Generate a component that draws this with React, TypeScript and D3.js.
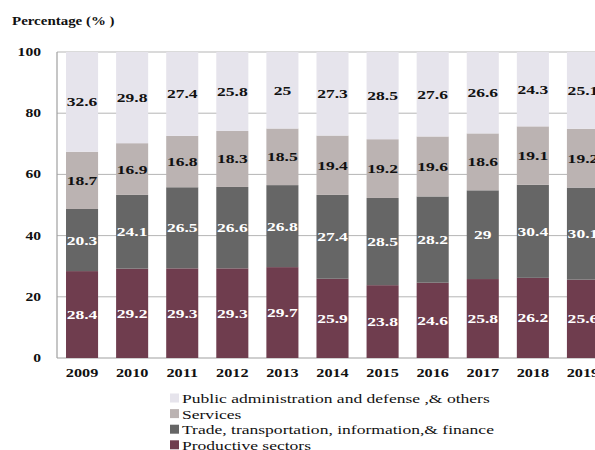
import React from "react";
import * as d3 from "d3";

const years = ["2009", "2010", "2011", "2012", "2013", "2014", "2015", "2016", "2017", "2018", "2019"];
const productive = [28.4, 29.2, 29.3, 29.3, 29.7, 25.9, 23.8, 24.6, 25.8, 26.2, 25.6];
const trade = [20.3, 24.1, 26.5, 26.6, 26.8, 27.4, 28.5, 28.2, 29, 30.4, 30.1];
const services = [18.7, 16.9, 16.8, 18.3, 18.5, 19.4, 19.2, 19.6, 18.6, 19.1, 19.2];
const publicAdmin = [32.6, 29.8, 27.4, 25.8, 25, 27.3, 28.5, 27.6, 26.6, 24.3, 25.1];
const yTicks = [0, 20, 40, 60, 80, 100];

const seriesNames = [
  "Productive sectors",
  "Trade, transportation, information,& finance",
  "Services",
  "Public administration and defense ,& others",
];
const seriesValues = [productive, trade, services, publicAdmin];
const colors = ["#6F3D4E", "#666666", "#BBB3B2", "#E6E4EC"];
const labelColors = ["#ffffff", "#ffffff", "#111111", "#111111"];

const FONT = "'Liberation Serif', 'Times New Roman', serif";

export default function App() {
  const left = 57, right = 608, top = 52, bottom = 358;
  const x = d3.scaleBand<string>().domain(years).range([left, right]).paddingInner(0.36).paddingOuter(0.18);
  const y = d3.scaleLinear().domain([0, 100]).range([bottom, top]);

  const table = years.map((yr, i) => {
    const row: any = { year: yr };
    seriesValues.forEach((s, k) => (row["s" + k] = s[i]));
    return row;
  });
  const stack = d3.stack<any>().keys(seriesValues.map((_, k) => "s" + k))(table);

  const sx = 1.3;
  const stretched = (tx: number, ty: number, text: string, props: any) => (
    <text transform={`translate(${tx},${ty}) scale(${sx},1)`} {...props}>
      {text}
    </text>
  );

  const legendOrder = [3, 2, 1, 0];

  return (
    <svg width={595} height={450} style={{ position: "absolute", left: 0, top: 0, background: "#fff" }}
      fontFamily={FONT}>
      {stretched(12, 25, "Percentage (% )", { fontSize: 11.5, fontWeight: "bold", fill: "#111" })}
      {yTicks.map((t) => (
        <g key={t}>
          {t > 0 && <line x1={left} x2={right} y1={y(t)} y2={y(t)} stroke="#b5b5b5" strokeWidth={1} />}
          {stretched(41, y(t) + 4, String(t), { fontSize: 12, fontWeight: "bold", fill: "#111", textAnchor: "end" })}
        </g>
      ))}
      <line x1={left} x2={left} y1={top} y2={bottom} stroke="#a0a0a0" strokeWidth={1.2} />
      <line x1={left} x2={right} y1={bottom} y2={bottom} stroke="#a0a0a0" strokeWidth={1.2} />
      {stack.map((layer, k) => (
        <g key={k}>
          {layer.map((d, i) => (
            <rect key={i} x={x(years[i])} width={x.bandwidth()} y={y(d[1])} height={y(d[0]) - y(d[1])}
              fill={colors[k]} />
          ))}
        </g>
      ))}
      {stack.map((layer, k) => (
        <g key={"l" + k}>
          {layer.map((d, i) =>
            <g key={i}>
              {stretched((x(years[i]) as number) + x.bandwidth() / 2, (y(d[0]) + y(d[1])) / 2 + 4.5,
                String(seriesValues[k][i]),
                { fontSize: 13.5, fontWeight: "bold", fill: labelColors[k], textAnchor: "middle" })}
            </g>
          )}
        </g>
      ))}
      {years.map((yr) => (
        <g key={yr}>
          {stretched((x(yr) as number) + x.bandwidth() / 2, 377, yr,
            { fontSize: 12.5, fontWeight: "bold", fill: "#111", textAnchor: "middle" })}
        </g>
      ))}
      {legendOrder.map((k, j) => (
        <g key={"lg" + k} transform={`translate(170,${398 + j * 15.6})`}>
          <rect x={0} y={-4.5} width={9} height={9} fill={colors[k]} />
          <text transform={`translate(12,5) scale(1.3,1)`} fontSize={13.5} fill="#111">{seriesNames[k]}</text>
        </g>
      ))}
    </svg>
  );
}
